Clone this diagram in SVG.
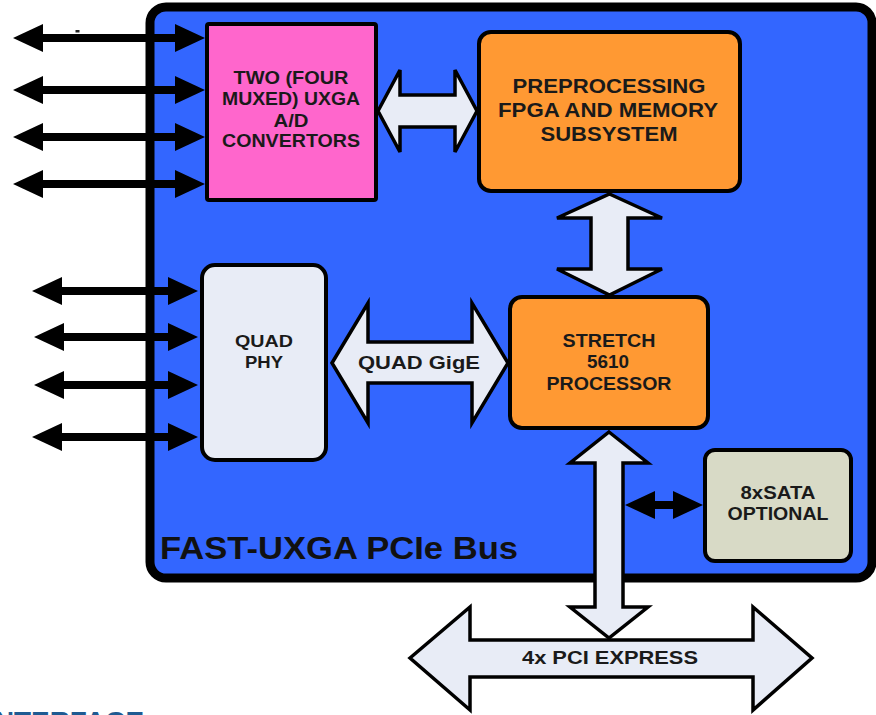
<svg xmlns="http://www.w3.org/2000/svg" width="876" height="715" viewBox="0 0 876 715">
<style>
  .box { stroke: #000; stroke-width: 4; }
  .pink { fill: #FF66CC; }
  .orange { fill: #FF9933; }
  .light { fill: #E8ECF6; }
  .sata { fill: #D8DAC6; }
  .lbl { font-family: "Liberation Sans", Arial, sans-serif; font-weight: bold; fill: #1a1a1a; text-anchor: middle; }
  .block { fill: #E8ECF6; stroke: #000; stroke-width: 3.5; stroke-linejoin: miter; }
  .wire { stroke: #000; stroke-width: 8; fill: none; marker-start: url(#head); marker-end: url(#head); }
</style>
<defs>
  <marker id="head" markerUnits="userSpaceOnUse" markerWidth="30" markerHeight="28" refX="0" refY="14" orient="auto-start-reverse" overflow="visible">
    <path d="M0,0 L30,14 L0,28 z" fill="#000"/>
  </marker>
</defs>
<rect width="876" height="715" fill="#fff"/>

<g id="container">
  <rect x="150" y="7" width="722" height="571" rx="16" fill="#3366FF" stroke="#000" stroke-width="9"/>
  <text x="160" y="559" font-family="Liberation Sans, Arial, sans-serif" font-weight="bold" font-size="32" fill="#111" textLength="358" lengthAdjust="spacingAndGlyphs">FAST-UXGA PCIe Bus</text>
</g>

<g id="adc">
  <rect class="box pink" x="207" y="24" width="169" height="176" rx="2"/>
  <text class="lbl" font-size="18" x="291" y="84" textLength="115" lengthAdjust="spacingAndGlyphs">TWO (FOUR</text>
  <text class="lbl" font-size="18" x="291" y="105" textLength="138" lengthAdjust="spacingAndGlyphs">MUXED) UXGA</text>
  <text class="lbl" font-size="18" x="291" y="127" textLength="35" lengthAdjust="spacingAndGlyphs">A/D</text>
  <text class="lbl" font-size="18" x="291" y="147" textLength="138" lengthAdjust="spacingAndGlyphs">CONVERTORS</text>
</g>

<g id="fpga">
  <rect class="box orange" x="479" y="32" width="261" height="159" rx="12"/>
  <text class="lbl" font-size="20" x="609" y="93" textLength="193" lengthAdjust="spacingAndGlyphs">PREPROCESSING</text>
  <text class="lbl" font-size="20" x="608" y="117" textLength="220" lengthAdjust="spacingAndGlyphs">FPGA AND MEMORY</text>
  <text class="lbl" font-size="20" x="609" y="141" textLength="137" lengthAdjust="spacingAndGlyphs">SUBSYSTEM</text>
</g>

<g id="phy">
  <rect class="box light" x="202" y="265" width="124" height="195" rx="13"/>
  <text class="lbl" font-size="17" x="264" y="347" textLength="58" lengthAdjust="spacingAndGlyphs">QUAD</text>
  <text class="lbl" font-size="17" x="264" y="368" textLength="38" lengthAdjust="spacingAndGlyphs">PHY</text>
</g>

<g id="stretch">
  <rect class="box orange" x="510" y="297" width="198" height="131" rx="12"/>
  <text class="lbl" font-size="18" x="609" y="347" textLength="93" lengthAdjust="spacingAndGlyphs">STRETCH</text>
  <text class="lbl" font-size="18" x="608" y="368" textLength="42" lengthAdjust="spacingAndGlyphs">5610</text>
  <text class="lbl" font-size="18" x="609" y="390" textLength="125" lengthAdjust="spacingAndGlyphs">PROCESSOR</text>
</g>

<g id="sata">
  <rect class="box sata" x="705" y="450" width="146" height="111" rx="10"/>
  <text class="lbl" font-size="18" x="778" y="499" textLength="75" lengthAdjust="spacingAndGlyphs">8xSATA</text>
  <text class="lbl" font-size="18" x="778" y="520" textLength="101" lengthAdjust="spacingAndGlyphs">OPTIONAL</text>
</g>

<g id="connectors">
  <line class="wire" x1="43" y1="38" x2="175" y2="38"/>
  <line class="wire" x1="43" y1="90" x2="175" y2="90"/>
  <line class="wire" x1="43" y1="137" x2="175" y2="137"/>
  <line class="wire" x1="43" y1="184" x2="175" y2="184"/>

  <line class="wire" x1="62" y1="291" x2="168" y2="291"/>
  <line class="wire" x1="64" y1="337" x2="168" y2="337"/>
  <line class="wire" x1="64" y1="385" x2="168" y2="385"/>
  <line class="wire" x1="62" y1="437" x2="168" y2="437"/>

  <line class="wire" x1="655" y1="505" x2="673" y2="505"/>

  <polygon class="block" points="378,111 400,70 400,95 455,95 455,70 477,111 455,152 455,127 400,127 400,152"/>
  <polygon class="block" points="609.5,194 662,218 628,218 628,269 662,269 609.5,295 557,269 591,269 591,218 557,218"/>
  <polygon class="block" points="332,363 368,303 368,342 472,342 472,303 508,363 472,423 472,383 368,383 368,423"/>
  <text class="lbl" font-size="19" x="419" y="369" textLength="122" lengthAdjust="spacingAndGlyphs">QUAD GigE</text>

  <polygon class="block" points="410,658 470,607 470,640 753,640 753,607 812,658 753,710 753,677 470,677 470,710"/>
  <text class="lbl" font-size="19" x="610" y="664" fill="#222" textLength="176" lengthAdjust="spacingAndGlyphs">4x PCI EXPRESS</text>
  <polygon class="block" points="609,432 648,463 623,463 623,607 648,607 609,638 570,607 595,607 595,463 570,463"/>
</g>

<rect x="75.5" y="30" width="4" height="2.5" fill="#222"/>
<text x="-6" y="730" font-family="Liberation Sans, Arial, sans-serif" font-weight="bold" font-size="26" fill="#1F5B92" textLength="150" lengthAdjust="spacingAndGlyphs">NTERFACE</text>
</svg>
